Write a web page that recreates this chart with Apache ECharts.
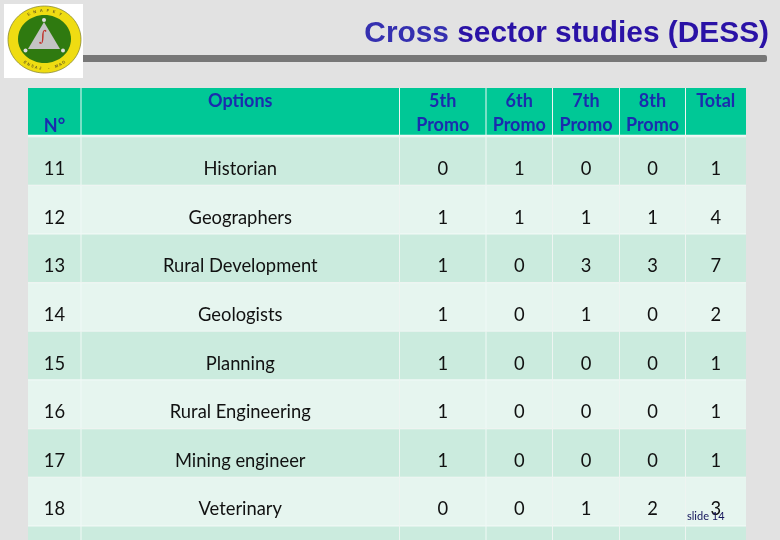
<!DOCTYPE html>
<html><head><meta charset="utf-8"><style>html,body{margin:0;padding:0;background:#e2e2e2}#c{width:780px;height:540px}</style>
<script src="https://cdn.jsdelivr.net/npm/echarts@6/dist/echarts.min.js"></script></head>
<body><div id="c"></div>
<script>
const titleStart = 'Cross';
const titleRest = ' sector studies (DESS)';
const headers = ['N°','Options','5th\nPromo','6th\nPromo','7th\nPromo','8th\nPromo','Total'];
const numbers = ['11','12','13','14','15','16','17','18',''];
const options = ['Historian','Geographers','Rural Development','Geologists','Planning','Rural Engineering','Mining engineer','Veterinary',''];
const promo5 = [0,1,1,1,1,1,1,0];
const promo6 = [1,1,0,0,0,0,0,0];
const promo7 = [0,1,3,1,0,0,0,1];
const promo8 = [0,1,3,0,0,0,0,2];
const totals = [1,4,7,2,1,1,1,3];
const columnWidths = [53,318.5,86.5,66.5,67,66,60.5];
const logoTop = 'ENAFEY';
const logoBottom = 'ENSAJ - MAG';
const slideLabel = 'slide 14';

const edges = [0];
columnWidths.forEach(w => edges.push(edges[edges.length-1]+w));
const cells = [];
headers.forEach((h,c)=>cells.push([c,0,h]));
numbers.forEach((n,i)=>{
  const vals=[n,options[i],promo5[i],promo6[i],promo7[i],promo8[i],totals[i]];
  vals.forEach((v,c)=>cells.push([c,i+1,v===undefined?'':String(v)]));
});
const FONT='Lato, Carlito, sans-serif';
function renderCell(params,api){
  const c=api.value(0), r=api.value(1), txt=cells[params.dataIndex][2];
  const p0=api.coord([edges[c],r]), p1=api.coord([edges[c+1],r+1]);
  const fill = r===0 ? '#00c896' : (r%2===1 ? '#cbebde' : '#e6f5ef');
  const bx=p0[0], by=p0[1], bw=p1[0]-p0[0], bh=p1[1]-p0[1];
  const x=bx+(c>0?0.5:0), y=by+(r===0?0:0.6), w=bw-(c>0?0.5:0)-(c<6?0.5:0), h=bh-(r===0?2:1.2);
  const kids=[
    {type:'rect',shape:{x:bx,y:by,width:bw,height:bh},style:{fill:'#f1f9f6'}},
    {type:'rect',shape:{x,y,width:w,height:h},style:{fill}}
  ];
  if(txt){
    let tx=bx+bw/2, ty=by+bh/2+8, va='middle';
    if(r===0){ ty=by+(c===0?26:1); va='top'; }
    kids.push({type:'text',style:{x:tx,y:ty,text:txt,fill:r===0?'#1a2cae':'#111',
      font:(r===0?'bold 18px ':'18.35px ')+FONT,align:'center',verticalAlign:va,lineHeight:24}});
  }
  return {type:'group',children:kids};
}
function ringTop(str,cx,cy,rx,ry,start,step){
  return str.split('').map((ch,i)=>{
    const a=(start+i*step)*Math.PI/180;
    return {type:'text',x:cx+rx*Math.sin(a),y:cy-ry*Math.cos(a),rotation:-a,
      style:{text:ch,font:'bold 4px "Liberation Sans"',fill:'#6b5f20',align:'center',verticalAlign:'middle'},z:12};
  });
}
function ringBottom(str,cx,cy,rx,ry,start,step){
  return str.split('').map((ch,i)=>{
    const a=(start+i*step)*Math.PI/180;
    return {type:'text',x:cx+rx*Math.sin(a),y:cy+ry*Math.cos(a),rotation:a,
      style:{text:ch,font:'bold 4px "Liberation Sans"',fill:'#6b5f20',align:'center',verticalAlign:'middle'},z:12};
  });
}
const chart=echarts.init(document.getElementById('c'));
chart.setOption({
  animation:false,
  backgroundColor:'#e2e2e2',
  title:{text:'{a|'+titleStart+'}{b|'+titleRest+'}',right:6,top:14,
    textStyle:{rich:{
      a:{fontFamily:'Liberation Sans',fontWeight:'bold',fontSize:29.85,color:'#3530b0'},
      b:{fontFamily:'Liberation Sans',fontWeight:'bold',fontSize:29.85,color:'#2a12a6'}}}},
  grid:{left:28,top:88,width:718,height:452},
  xAxis:{type:'value',min:0,max:718,show:false},
  yAxis:{type:'value',min:0,max:9.29,inverse:true,show:false},
  series:[{type:'custom',coordinateSystem:'cartesian2d',clip:true,renderItem:renderCell,data:cells.map(d=>[d[0],d[1]]),silent:true}],
  graphic:[
    {type:'rect',shape:{x:83,y:55,width:684,height:7,r:[0,2,2,0]},style:{fill:'#777'},z:5},
    {type:'rect',shape:{x:4,y:4,width:79,height:74},style:{fill:'#fff'},z:10},
    {type:'ellipse',shape:{cx:44.5,cy:39.5,rx:36.5,ry:33.5},style:{fill:'#efdc12',stroke:'#8a8a30',lineWidth:0.8},z:11},
    {type:'ellipse',shape:{cx:44.5,cy:39,rx:26.5,ry:24},style:{fill:'#2f7a10'},z:11},
    {type:'polygon',shape:{points:[[44,22],[28,49],[60,49]]},style:{fill:'#c4c4c4'},z:12},
    {type:'circle',shape:{cx:44,cy:20,r:2},style:{fill:'#ddd'},z:13},
    {type:'circle',shape:{cx:25.5,cy:50.5,r:2},style:{fill:'#ddd'},z:13},
    {type:'circle',shape:{cx:63,cy:50.5,r:2},style:{fill:'#ddd'},z:13},
    {type:'text',x:43,y:37,style:{text:'∫',font:'italic 15px "DejaVu Serif"',fill:'#c0302a',align:'center',verticalAlign:'middle'},z:13},
    ...ringTop(logoTop,44.5,39.5,31.5,29,-30,12),
    ...ringBottom(logoBottom,44.5,39.5,31.5,29,-38,7.6),
    {type:'text',x:687,y:516,style:{text:slideLabel,font:'11px Lato',fill:'#14145a',align:'left',verticalAlign:'middle'},z:20}
  ]
});
</script></body></html>
